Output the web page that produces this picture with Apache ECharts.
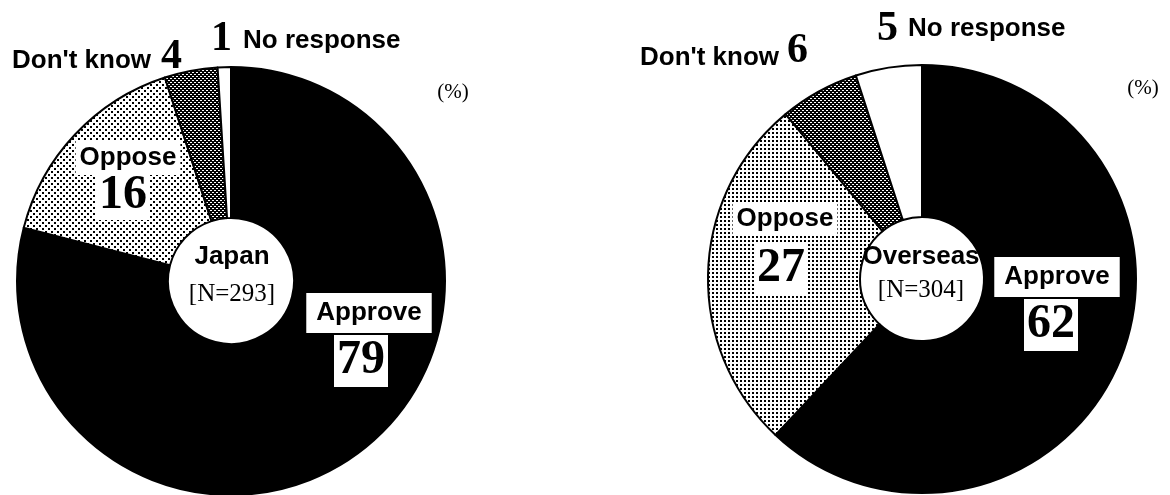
<!DOCTYPE html>
<html>
<head>
<meta charset="utf-8">
<script src="https://cdn.jsdelivr.net/npm/echarts@6/dist/echarts.min.js"></script>
<style>
html,body{margin:0;padding:0;background:#fff;}
#chart{width:1170px;height:495px;}
</style>
</head>
<body>
<div id="chart"></div>
<script>
// ---- data ----
const categories = ['Approve', 'Oppose', "Don't know", 'No response'];
const japanValues = [79, 16, 4, 1];
const overseasValues = [62, 27, 6, 5];
const groupNames = ['Japan', 'Overseas'];
const groupN = [293, 304];
const unitLabel = '(%)';

// ---- patterns ----
function makeTile(size, bg, fg, rects) {
  const c = document.createElement('canvas');
  c.width = size; c.height = size;
  const g = c.getContext('2d');
  g.fillStyle = bg; g.fillRect(0, 0, size, size);
  g.fillStyle = fg;
  rects.forEach(r => g.fillRect(r[0], r[1], r[2], r[3]));
  return { image: c, repeat: 'repeat' };
}
const opposeFillJ = makeTile(6, '#fff', '#000', [[0,0,2,2],[3,3,2,2]]);
const opposeFillO = makeTile(4, '#fff', '#000', [[0,0,2,2]]);
const dkFill = makeTile(4, '#000', '#fff', [[0,0,2,1],[2,2,2,1]]);
const fillsJ = ['#000', opposeFillJ, dkFill, '#fff'];
const fillsO = ['#000', opposeFillO, dkFill, '#fff'];

const SANS = '"Liberation Sans", Arial, sans-serif';
const SERIF = '"Liberation Serif", "Times New Roman", serif';

function pie(center, radius, values, fills) {
  return {
    type: 'pie', center: center, radius: radius, startAngle: 90, clockwise: true,
    silent: true, animation: false,
    label: { show: false }, labelLine: { show: false },
    emphasis: { disabled: true },
    itemStyle: { borderColor: '#000', borderWidth: 2 },
    data: categories.map((c, i) => ({ name: c, value: values[i], itemStyle: { color: fills[i] } }))
  };
}

function txt(x, y, text, font, align, bg, padding) {
  const style = { text: text, font: font, fill: '#000', align: align || 'left', verticalAlign: 'middle' };
  if (bg) { style.backgroundColor = bg; style.padding = padding; }
  return { type: 'text', x: x, y: y, z: 100, silent: true, style: style };
}
const labelFont = 'bold 26px ' + SANS;
const outNumFont = 'bold 42px ' + SERIF;
const inNumFont = 'bold 48px ' + SERIF;
const nFont = '25px ' + SERIF;
const unitFont = '21px ' + SERIF;

const graphics = [
  // Japan
  txt(12, 61, categories[2], labelFont),
  txt(161, 57, String(japanValues[2]), outNumFont),
  txt(211, 39, String(japanValues[3]), outNumFont),
  txt(243, 41, categories[3], labelFont),
  txt(453, 92, unitLabel, unitFont, 'center'),
  txt(128, 158, categories[1], labelFont, 'center', '#fff', [4, 4]),
  txt(123, 196, String(japanValues[1]), inNumFont, 'center', '#fff', [0, 3]),
  txt(232, 257, groupNames[0], labelFont, 'center'),
  txt(232, 294, '[N=' + groupN[0] + ']', nFont, 'center'),
  txt(369, 313, categories[0], labelFont, 'center', '#fff', [7, 10]),
  txt(361, 361, String(japanValues[0]), inNumFont, 'center', '#fff', [2, 3]),
  // Overseas
  txt(640, 58, categories[2], labelFont),
  txt(787, 51, String(overseasValues[2]), outNumFont),
  txt(877, 29, String(overseasValues[3]), outNumFont),
  txt(908, 29, categories[3], labelFont),
  txt(1143, 88, unitLabel, unitFont, 'center'),
  txt(785, 219, categories[1], labelFont, 'center', '#fff', [4, 4]),
  txt(781, 269, String(overseasValues[1]), inNumFont, 'center', '#fff', [2, 3]),
  txt(921, 257, groupNames[1], labelFont, 'center'),
  txt(921, 290, '[N=' + groupN[1] + ']', nFont, 'center'),
  txt(1057, 277, categories[0], labelFont, 'center', '#fff', [7, 10]),
  txt(1051, 325, String(overseasValues[0]), inNumFont, 'center', '#fff', [2, 3])
];

const chart = echarts.init(document.getElementById('chart'), null, { renderer: 'canvas' });
chart.setOption({
  animation: false,
  backgroundColor: '#fff',
  series: [
    pie([231, 281], [63, 214], japanValues, fillsJ),
    pie([922, 279], [62, 214], overseasValues, fillsO)
  ],
  graphic: graphics
});
</script>
</body>
</html>
